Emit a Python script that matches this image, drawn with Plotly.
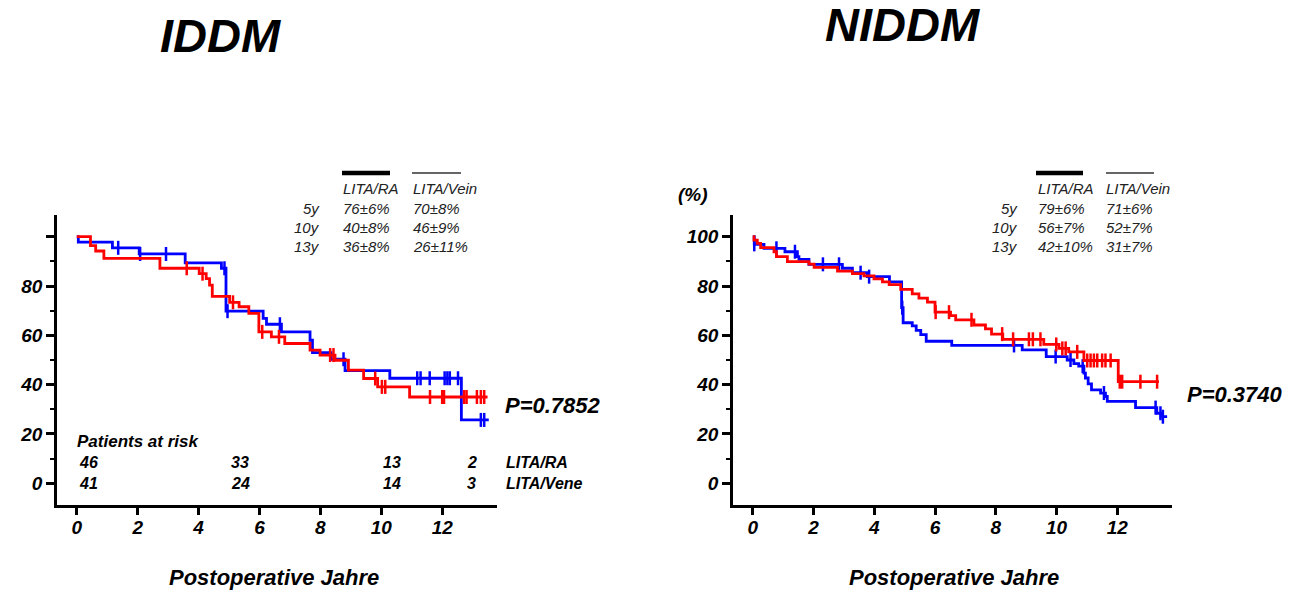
import plotly.graph_objects as go

W, H = 1294, 583   # page body has an 8px margin inside the 1302x591 window
OFF = 8

# ---------------- data (years, survival %) ----------------
# IDDM
iddm_ra_t = [0, 0.45, 0.62, 0.89, 2.73, 4.02, 4.25, 4.36, 4.45, 5.02, 5.33, 5.65, 5.98, 6.39, 6.83,
             7.66, 7.99, 8.48, 8.92, 9.42, 9.88, 10.93, 13.49]
iddm_ra_s = [100, 96.4, 94.2, 91.2, 87.2, 85.0, 83.0, 80.4, 75.8, 73.4, 71.6, 68.9, 61.4, 59.4, 56.7,
             54.0, 52.0, 49.9, 45.9, 42.5, 39.1, 35.0, 35.0]
iddm_ra_cens = [3.61, 4.13, 5.13, 6.09, 6.64, 8.32, 8.43, 9.8, 10.02, 10.13, 11.6, 12.0, 12.06,
                12.72, 12.8, 13.14, 13.27, 13.38]

iddm_vein_t = [0, 0.05, 1.17, 2.05, 3.56, 4.75, 4.9, 6.12, 6.23, 6.72, 7.66, 7.74, 8.35, 8.81,
               10.28, 12.63, 13.53]
iddm_vein_s = [100, 97.8, 95.5, 93.0, 89.4, 87.2, 69.8, 66.9, 64.5, 61.4, 58.0, 53.0, 50.3, 45.7,
               42.6, 25.7, 25.7]
iddm_vein_cens = [1.36, 2.08, 2.93, 4.85, 4.95, 6.67, 8.76, 11.18, 11.29, 11.59, 12.08, 12.17,
                  12.25, 12.52, 13.27, 13.38]

# NIDDM
niddm_ra_t = [0, 0.04, 0.15, 0.26, 0.7, 0.78, 1.14, 1.85, 2.02, 2.79, 3.28, 3.66, 3.99, 4.27, 4.49,
              4.87, 5.25, 5.47, 5.75, 6.0, 6.51, 6.68, 7.28, 7.66, 7.86, 8.23, 9.58, 10.08, 10.4,
              10.9, 12.03, 13.37]
niddm_ra_s = [100, 98.6, 97.3, 95.6, 93.9, 91.9, 89.9, 88.9, 87.6, 86.0, 85.0, 84.1, 82.9, 81.7, 80.6,
              78.6, 76.8, 75.1, 73.5, 69.4, 68.0, 66.3, 64.2, 62.6, 60.5, 58.4, 56.3, 54.7, 53.3,
              49.8, 41.2, 41.2]
niddm_ra_cens = [6.02, 6.46, 7.2, 8.21, 8.57, 9.09, 9.22, 9.47, 9.99, 10.19, 10.3, 10.68, 11.01,
                 11.12, 11.23, 11.34, 11.5, 11.61, 11.78, 12.08, 12.16, 12.76, 13.31]

niddm_vein_t = [0, 0.05, 0.37, 1.06, 1.47, 1.52, 1.85, 2.95, 3.28, 3.77, 4.5, 4.9, 4.95, 5.25, 5.38,
                5.53, 5.71, 6.55, 8.87, 9.66, 10.35, 10.57, 10.73, 10.9, 10.95, 11.04, 11.15, 11.45,
                11.61, 11.67, 12.6, 13.3, 13.44, 13.64]
niddm_vein_s = [100, 96.9, 95.3, 93.9, 91.9, 90.8, 88.8, 87.2, 85.4, 83.8, 81.7, 71.2, 65.1, 63.8, 62.0,
                60.3, 57.6, 55.9, 54.1, 51.4, 50.0, 48.5, 47.5, 44.7, 42.7, 40.3, 37.9, 36.6,
                35.2, 33.2, 30.7, 28.4, 27.0, 27.0]
niddm_vein_cens = [0.05, 0.78, 1.39, 2.31, 2.84, 3.55, 3.83, 4.92, 8.6, 9.97, 10.46, 10.86, 11.56,
                   13.26, 13.42, 13.5]

# tables
table_rows = ["5y", "10y", "13y"]
iddm_ra_tab = ["76\u00b16%", "40\u00b18%", "36\u00b18%"]
iddm_vein_tab = ["70\u00b18%", "46\u00b19%", "26\u00b111%"]
niddm_ra_tab = ["79\u00b16%", "56\u00b17%", "42\u00b110%"]
niddm_vein_tab = ["71\u00b16%", "52\u00b17%", "31\u00b17%"]

risk_years = [0, 5, 10, 12.75]
risk_ra = ["46", "33", "13", "2"]
risk_vein = ["41", "24", "14", "3"]

x_ticks = [0, 2, 4, 6, 8, 10, 12]
y_ticks = [0, 20, 40, 60, 80, 100]

RED = "#ff0000"
BLUE = "#0000ff"
FONT = "Arial, Liberation Sans, sans-serif"


def fx(p):
    return (p - OFF) / W


def fy(p):
    return 1 - (p - OFF) / H


def level(ts, ss, t):
    v = ss[0]
    for ti, si in zip(ts, ss):
        if ti <= t:
            v = si
    return v


fig = go.Figure()


def add_panel(xa, ya, ra_t, ra_s, ra_c, ve_t, ve_s, ve_c):
    for t, s, c, col in [(ve_t, ve_s, ve_c, BLUE), (ra_t, ra_s, ra_c, RED)]:
        fig.add_trace(go.Scatter(x=t, y=s, mode="lines", line=dict(color=col, width=2.8, shape="hv"),
                                 xaxis=xa, yaxis=ya, showlegend=False, hoverinfo="skip"))
        fig.add_trace(go.Scatter(x=c, y=[level(t, s, ci) for ci in c], mode="markers",
                                 marker=dict(symbol="line-ns", size=10,
                                             line=dict(color=col, width=2.5)),
                                 xaxis=xa, yaxis=ya, showlegend=False, hoverinfo="skip"))


add_panel("x", "y", iddm_ra_t, iddm_ra_s, iddm_ra_cens, iddm_vein_t, iddm_vein_s, iddm_vein_cens)
add_panel("x2", "y2", niddm_ra_t, niddm_ra_s, niddm_ra_cens, niddm_vein_t, niddm_vein_s, niddm_vein_cens)

tickfont = dict(family=FONT, size=19, color="black", weight="bold", style="italic")
xcommon = dict(range=[-0.65, 13.8], tickmode="array", tickvals=x_ticks, ticks="outside", ticklen=7,
               tickwidth=2.5, tickcolor="black", showline=True, linecolor="black", linewidth=2.5,
               showgrid=False, zeroline=False, tickfont=tickfont, fixedrange=True,
               ticklabelstandoff=-4)
ycommon = dict(range=[-8.8, 108.8], tickmode="array", tickvals=y_ticks, ticks="outside", ticklen=8,
               tickwidth=2.5, tickcolor="black", showline=True, linecolor="black", linewidth=2.5,
               showgrid=False, zeroline=False, tickfont=tickfont, fixedrange=True,
               minor=dict(tickmode="array", tickvals=[10, 30, 50, 70, 90], ticks="outside",
                          ticklen=4, tickwidth=2.2, tickcolor="black", showgrid=False))

ydom = [fy(505), fy(215)]
fig.update_layout(
    width=W, height=H, margin=dict(l=0, r=0, t=0, b=0),
    paper_bgcolor="white", plot_bgcolor="white", showlegend=False,
    xaxis=dict(domain=[fx(57), fx(497)], anchor="y", **xcommon),
    yaxis=dict(domain=ydom, anchor="x", ticktext=["0", "20", "40", "60", "80", ""], **ycommon),
    xaxis2=dict(domain=[fx(733), fx(1172)], anchor="y2", **xcommon),
    yaxis2=dict(domain=ydom, anchor="x2", ticktext=[str(v) for v in y_ticks], **ycommon),
)

ann = []


def text(x, y, s, size, bold=False, italic=True, xanchor="center", color="black", xref="paper"):
    ann.append(dict(x=x if xref != "paper" else fx(x), y=fy(y), xref=xref, yref="paper", text=s,
                    showarrow=False, xanchor=xanchor, yanchor="middle",
                    font=dict(family=FONT, size=size, color=color,
                              weight="bold" if bold else "normal",
                              style="italic" if italic else "normal")))


# titles
text(220, 35, "IDDM", 47, bold=True)
text(902, 25, "NIDDM", 47, bold=True)
# axis titles
text(274, 577, "Postoperative Jahre", 22, bold=True)
text(954, 577, "Postoperative Jahre", 22, bold=True)
text(693, 195, "(%)", 19, bold=True)
# p-values
text(503, 405, "P=0.7852", 22, bold=True, xanchor="left")
text(1185, 394, "P=0.3740", 22, bold=True, xanchor="left")

# survival tables
TC = "#222222"
for (rowx, c1, c2, ra_tab, ve_tab) in [(322, 341, 411, iddm_ra_tab, iddm_vein_tab),
                                        (1020, 1036, 1104, niddm_ra_tab, niddm_vein_tab)]:
    text(c1, 189, "LITA/RA", 15, xanchor="left", color=TC)
    text(c2, 189, "LITA/Vein", 15, xanchor="left", color=TC)
    for i, r in enumerate(table_rows):
        yy = 208 + i * 19.5
        text(rowx, yy, r, 15, xanchor="right", color=TC)
        text(c1, yy, ra_tab[i], 15, xanchor="left", color=TC)
        text(c2, yy, ve_tab[i], 15, xanchor="left", color=TC)

# patients at risk (left panel)
text(75, 441, "Patients at risk", 17, bold=True, xanchor="left")
for yr, a, b in zip(risk_years, risk_ra, risk_vein):
    text(yr, 462, a, 16, bold=True, xanchor="left", xref="x")
    text(yr, 483, b, 16, bold=True, xanchor="left", xref="x")
text(504, 462, "LITA/RA", 16, bold=True, xanchor="left")
text(504, 483, "LITA/Vene", 16, bold=True, xanchor="left")

fig.update_layout(annotations=ann)

# legend bars above tables
shapes = []
for (a0, a1, b0, b1) in [(342, 390, 412, 461), (1036, 1083, 1106, 1154)]:
    shapes.append(dict(type="line", xref="paper", yref="paper", x0=fx(a0), x1=fx(a1), y0=fy(173), y1=fy(173),
                       line=dict(color="black", width=4.5)))
    shapes.append(dict(type="line", xref="paper", yref="paper", x0=fx(b0), x1=fx(b1), y0=fy(173), y1=fy(173),
                       line=dict(color="#333333", width=1.5)))
fig.update_layout(shapes=shapes)

fig.write_html("out.html")
